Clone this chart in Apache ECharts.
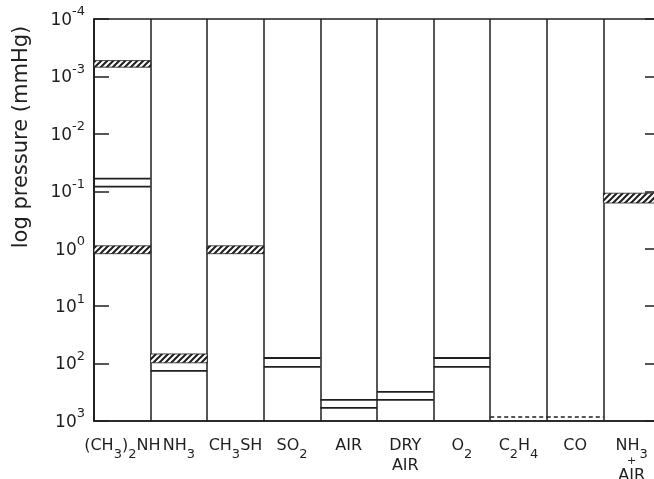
<!DOCTYPE html>
<html>
<head>
<meta charset="utf-8">
<script src="https://cdn.jsdelivr.net/npm/echarts@6/dist/echarts.min.js"></script>
<style>
  html, body { margin: 0; padding: 0; background: #fff; }
  #chart { width: 654px; height: 479px; }
</style>
</head>
<body>
<div id="chart"></div>
<script>
// Gases studied, one column each
const categories = ['(CH3)2NH', 'NH3', 'CH3SH', 'SO2', 'AIR', 'DRY AIR', 'O2', 'C2H4', 'CO', 'NH3 + AIR'];

// Hatched ranges: [column, lower pressure, upper pressure] in mmHg
const hatchedRanges = [
  [0, 5.3e-4, 6.9e-4],
  [0, 0.89, 1.22],
  [1, 68, 97],
  [2, 0.89, 1.22],
  [9, 0.108, 0.16]
];

// Single pressure levels: [column, pressure] in mmHg
const solidLevels = [
  [0, 0.060], [0, 0.083],
  [1, 134],
  [3, 80], [3, 114],
  [4, 430], [4, 593],
  [5, 312], [5, 430],
  [6, 80], [6, 114]
];

// Dashed levels: [column, pressure] in mmHg
const dashedLevels = [
  [7, 850], [8, 850]
];

// Axis range, in mmHg
const pressureMin = 1e-4;
const pressureMax = 1e3;

const INK = '#1f1f1f';
const FONT = 'DejaVu Sans';

// Diagonal hatch tile
function makeHatch() {
  const s = 6;
  const c = document.createElement('canvas');
  c.width = s; c.height = s;
  const g = c.getContext('2d');
  g.fillStyle = '#fff';
  g.fillRect(0, 0, s, s);
  g.strokeStyle = INK;
  g.lineWidth = 2;
  g.beginPath();
  g.moveTo(-1, s + 1); g.lineTo(s + 1, -1);
  g.moveTo(-1, 1); g.lineTo(1, -1);
  g.moveTo(s - 1, s + 1); g.lineTo(s + 1, s - 1);
  g.stroke();
  return c;
}
const hatchTile = makeHatch();

// Chemical formula -> rich text with subscript digits
function formulaRich(name) {
  return name.split(' ').map(function (word) {
    if (word === '+') return '{p|+}';
    return word.split(/(\d+)/).filter(Boolean).map(function (part) {
      return /^\d+$/.test(part) ? '{s|' + part + '}' : '{b|' + part + '}';
    }).join('');
  }).join('\n');
}

function colWidth(api) {
  return api.coord([1, 1])[0] - api.coord([0, 1])[0];
}

function levelItem(dash) {
  return function (params, api) {
    const c = api.coord([api.value(0), api.value(1)]);
    const w = colWidth(api);
    return {
      type: 'line',
      shape: { x1: c[0] - w / 2, y1: c[1], x2: c[0] + w / 2, y2: c[1] },
      style: { stroke: INK, lineWidth: dash ? 1.5 : 1.8, lineDash: dash ? [4, 3] : null }
    };
  };
}

const chart = echarts.init(document.getElementById('chart'), null, { renderer: 'canvas' });

chart.setOption({
  backgroundColor: '#fff',
  animation: false,
  grid: {
    left: 94, right: -6, top: 19, bottom: 58,
    outerBoundsMode: 'none',
    containLabel: false,
    show: true, borderColor: INK, borderWidth: 1.5
  },
  xAxis: {
    type: 'category',
    data: categories,
    axisLine: { lineStyle: { color: INK, width: 1.5 } },
    axisTick: { show: false },
    splitLine: { show: true, interval: 0, lineStyle: { color: INK, width: 1.5 } },
    axisLabel: {
      interval: 0,
      margin: 15,
      hideOverlap: false,
      formatter: formulaRich,
      rich: {
        b: { fontFamily: FONT, fontSize: 16, color: INK, lineHeight: 20 },
        s: { fontFamily: FONT, fontSize: 13, color: INK, lineHeight: 20, padding: [18, 0, 0, 0] },
        p: { fontFamily: FONT, fontSize: 11, color: INK, lineHeight: 10 }
      }
    }
  },
  yAxis: [{
    type: 'log',
    logBase: 10,
    inverse: true,
    min: pressureMin,
    max: pressureMax,
    splitNumber: 8,
    axisLine: { show: true, lineStyle: { color: INK, width: 1.5 } },
    axisTick: { show: true, inside: true, length: 15, lineStyle: { color: INK, width: 1.5 } },
    splitLine: { show: false },
    axisLabel: {
      margin: 9,
      formatter: function (v) {
        const e = Math.round(Math.log10(v));
        return '{b|10}{e|' + (e < 0 ? '-' + (-e) : e) + '}';
      },
      rich: {
        b: { fontFamily: FONT, fontSize: 17, color: INK, lineHeight: 20, padding: [3, 0, 0, 0] },
        e: { fontFamily: FONT, fontSize: 13, color: INK, lineHeight: 20, padding: [0, 0, 14, 0] }
      }
    }
  }, {
    type: 'log',
    logBase: 10,
    inverse: true,
    position: 'right',
    min: pressureMin,
    max: pressureMax,
    splitNumber: 8,
    axisLine: { show: false },
    axisTick: { show: true, inside: true, length: 15, lineStyle: { color: INK, width: 1.5 } },
    splitLine: { show: false },
    axisLabel: { show: false }
  }],
  graphic: [{
    type: 'text',
    x: 22,
    y: 137,
    rotation: Math.PI / 2,
    style: {
      text: 'log pressure (mmHg)',
      fontFamily: FONT,
      fontSize: 21,
      fill: INK,
      align: 'center',
      verticalAlign: 'middle'
    }
  }],
  series: [{
    type: 'custom',
    name: 'hatched',
    data: hatchedRanges,
    encode: { x: 0, y: [1, 2] },
    z: 3,
    renderItem: function (params, api) {
      const a = api.coord([api.value(0), api.value(1)]);
      const b = api.coord([api.value(0), api.value(2)]);
      const w = colWidth(api);
      const top = Math.min(a[1], b[1]);
      const h = Math.abs(a[1] - b[1]);
      return {
        type: 'rect',
        shape: { x: a[0] - w / 2, y: top, width: w, height: h },
        style: { fill: { image: hatchTile, repeat: 'repeat' }, stroke: INK, lineWidth: 0.8 }
      };
    }
  }, {
    type: 'custom',
    name: 'levels',
    data: solidLevels,
    encode: { x: 0, y: 1 },
    z: 3,
    renderItem: levelItem(false)
  }, {
    type: 'custom',
    name: 'dashed',
    data: dashedLevels,
    encode: { x: 0, y: 1 },
    z: 3,
    renderItem: levelItem(true)
  }]
});
</script>
</body>
</html>
